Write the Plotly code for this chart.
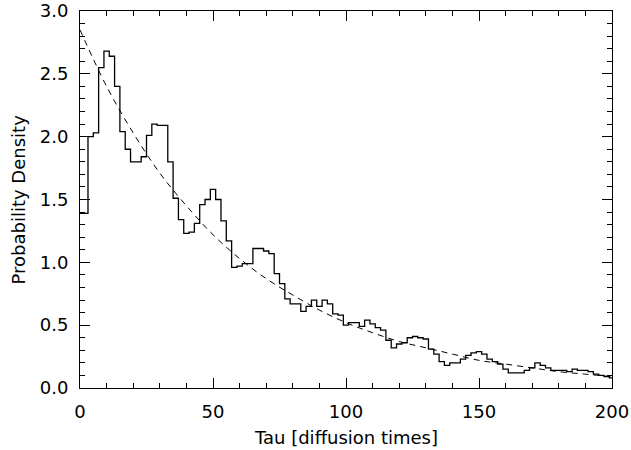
import plotly.graph_objects as go

# Histogram bin centres (tau, diffusion times) and probability density
tau_bins = list(range(0, 201, 2))
density = [
    1.39, 1.39, 2.00, 2.03, 2.55, 2.68, 2.64, 2.40, 2.04, 1.90,
    1.80, 1.80, 1.84, 2.01, 2.10, 2.09, 2.09, 1.80, 1.51, 1.34,
    1.23, 1.24, 1.31, 1.46, 1.50, 1.58, 1.50, 1.33, 1.17, 0.96,
    0.97, 0.99, 0.99, 1.11, 1.11, 1.09, 1.07, 0.91, 0.83, 0.71,
    0.67, 0.67, 0.61, 0.65, 0.70, 0.65, 0.70, 0.67, 0.59, 0.58,
    0.50, 0.52, 0.52, 0.49, 0.54, 0.51, 0.48, 0.46, 0.38, 0.32,
    0.35, 0.36, 0.40, 0.41, 0.40, 0.39, 0.31, 0.27, 0.21, 0.18,
    0.20, 0.20, 0.23, 0.26, 0.28, 0.29, 0.27, 0.23, 0.21, 0.19,
    0.15, 0.12, 0.12, 0.12, 0.14, 0.16, 0.20, 0.18, 0.16, 0.14,
    0.14, 0.14, 0.13, 0.15, 0.14, 0.14, 0.13, 0.11, 0.10, 0.09,
    0.08,
]

# Dashed model curve
fit_tau = [0, 10, 20, 30, 40, 50, 60, 70, 80, 90, 100,
           110, 120, 130, 140, 150, 160, 170, 180, 190, 200]
fit_density = [2.85, 2.40, 2.03, 1.71, 1.45, 1.22, 1.03, 0.87, 0.74, 0.62, 0.52,
               0.44, 0.37, 0.32, 0.27, 0.22, 0.19, 0.16, 0.13, 0.11, 0.09]

x_ticks = [0, 50, 100, 150, 200]
x_tick_labels = ["0", "50", "100", "150", "200"]
y_ticks = [0.0, 0.5, 1.0, 1.5, 2.0, 2.5, 3.0]
y_tick_labels = ["0.0", "0.5", "1.0", "1.5", "2.0", "2.5", "3.0"]

x_title = "Tau [diffusion times]"
y_title = "Probability Density"

FONT = "DejaVu Sans"
FSIZE = 18

fig = go.Figure()
fig.add_trace(go.Scatter(
    x=tau_bins, y=density, mode="lines",
    line=dict(color="black", width=1.3, shape="hvh"),
    showlegend=False, hoverinfo="skip",
))
fig.add_trace(go.Scatter(
    x=fit_tau, y=fit_density, mode="lines",
    line=dict(color="black", width=1, dash="6px,5px", shape="spline"),
    showlegend=False, hoverinfo="skip",
))

axis_common = dict(
    showgrid=False, zeroline=False, showline=True, linecolor="black", linewidth=1,
    mirror="allticks", ticks="inside", ticklen=10, tickwidth=1, tickcolor="black",
    tickfont=dict(family=FONT, size=FSIZE, color="black"),
    automargin=False,
)

fig.update_xaxes(
    range=[0, 200], tickvals=x_ticks, ticktext=x_tick_labels,
    minor=dict(dtick=10, ticks="inside", ticklen=5, tickcolor="black", tickwidth=1),
    ticklabelstandoff=7,
    **axis_common,
)
fig.update_yaxes(
    range=[0, 3], tickvals=y_ticks, ticktext=y_tick_labels,
    minor=dict(dtick=0.1, ticks="inside", ticklen=5, tickcolor="black", tickwidth=1),
    ticklabelstandoff=7,
    **axis_common,
)

fig.add_annotation(
    text=x_title, xref="paper", yref="paper", x=0.5, y=-0.13,
    xanchor="center", yanchor="middle", showarrow=False,
    font=dict(family=FONT, size=FSIZE, color="black"),
)
fig.add_annotation(
    text=y_title, xref="paper", yref="paper", x=-0.1165, y=0.5,
    xanchor="center", yanchor="middle", showarrow=False, textangle=-90,
    font=dict(family=FONT, size=FSIZE, color="black"),
)

fig.update_layout(
    width=631, height=450,
    margin=dict(l=80, r=19, t=11, b=62),
    paper_bgcolor="white", plot_bgcolor="white",
    showlegend=False, hovermode=False,
)

fig.write_html(
    "out.html",
    config={"displayModeBar": False},
    post_script="document.body.style.margin='0px';document.body.style.padding='0px';",
)
